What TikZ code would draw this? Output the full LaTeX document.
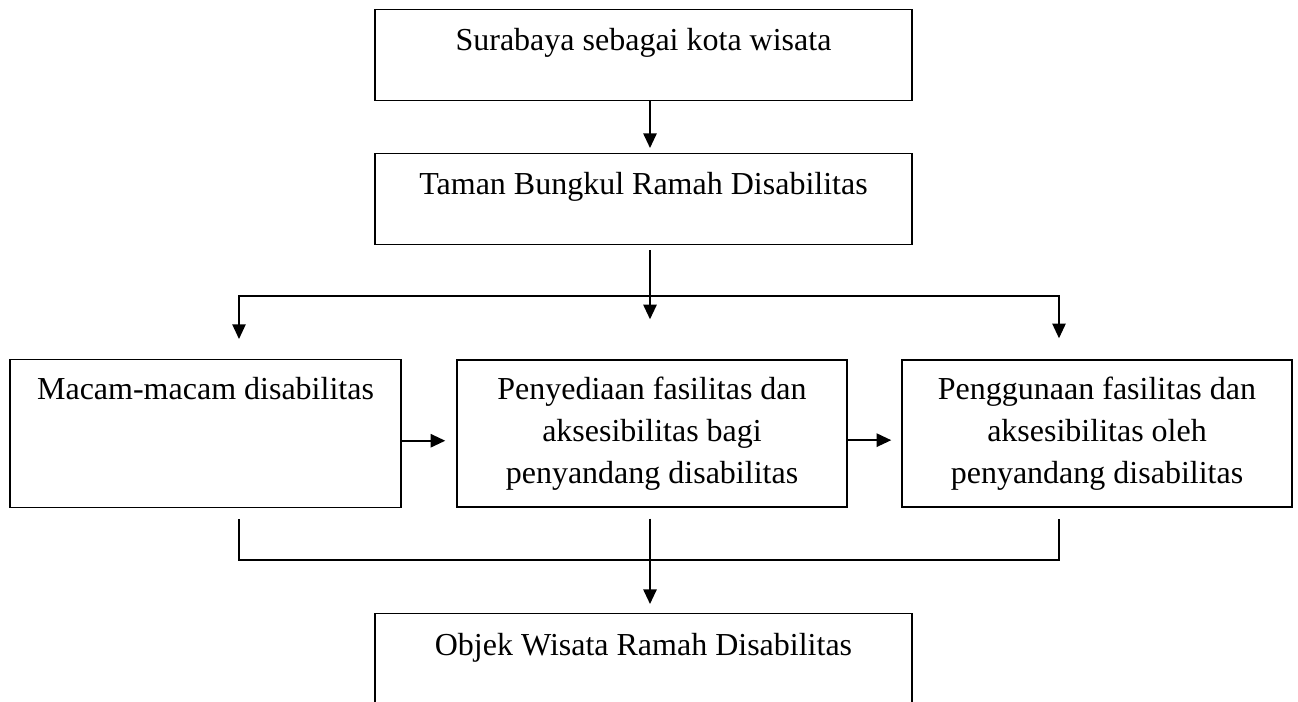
\documentclass[tikz,border=0pt]{standalone}
\usepackage{fontspec}
\setmainfont{Liberation Serif}
\usetikzlibrary{arrows.meta}
\tikzset{
  box/.style={draw=black, line width=1.1pt, inner sep=0pt, rectangle},
  onebox/.style={box, minimum width=402.75pt, text height=30.75pt, text depth=37.5pt, anchor=north},
  threebox/.style={box, minimum width=292.5pt, minimum height=110.25pt, align=center},
  link/.style={draw=black, line width=1.1pt},
  arr/.style={draw=black, line width=1.4pt, -{Triangle[length=11pt,width=10pt]}},
  arrtwo/.style={draw=black, line width=1.1pt, {Triangle[length=11pt,width=10pt]}-{Triangle[length=11pt,width=10pt]}}
}
\begin{document}
\begin{tikzpicture}[x=0.75pt, y=-0.75pt, font=\fontsize{24}{31.5}\selectfont]
\useasboundingbox (0,0) rectangle (1298,702);
\clip (0,0) rectangle (1298,702);

\node[onebox] (b1) at (643.5,9) {Surabaya sebagai kota wisata};
\node[onebox] (b2) at (643.5,153) {Taman Bungkul Ramah Disabilitas};
\node[box, minimum width=293.25pt, text height=30pt, text depth=81pt, anchor=north] (lb) at (205.5,359) {Macam-macam disabilitas};
\node[threebox] (mb) at (652,433.5) {Penyediaan fasilitas dan\\aksesibilitas bagi\\penyandang disabilitas};
\node[threebox] (rb) at (1097,433.5) {Penggunaan fasilitas dan\\aksesibilitas oleh\\penyandang disabilitas};
\node[box, minimum width=402.75pt, text height=31.5pt, text depth=38pt, anchor=north] (ob) at (643.5,613) {Objek Wisata Ramah Disabilitas};

\coordinate (fl) at (239,296);
\coordinate (fr) at (1059,296);
\coordinate (ml) at (239,560);
\coordinate (mr) at (1059,560);

% top arrow
\draw[arr, shorten >=3.75pt] ([xshift=4.875pt]b1.south) -- ([xshift=4.875pt]b2.north);
% down to middle
\draw[arr, shorten <=3.75pt, shorten >=30pt] ([xshift=4.875pt]b2.south) -- ([xshift=4.875pt]b2.south |- mb.north);
% fork to left and right
\draw[arrtwo, shorten <=15pt, shorten >=15.75pt] (fl |- lb.north) -- (fl) -- (fr) -- (fr |- rb.north);
% horizontal arrows
\draw[arr, shorten >=8.25pt] ([yshift=-5.25pt]lb.east) -- ([yshift=-5.25pt]lb.east -| mb.west);
\draw[arr, shorten >=7.5pt] ([yshift=-5pt]mb.east) -- ([yshift=-5pt]mb.east -| rb.west);
% merge
\draw[link, shorten <=8.25pt, shorten >=8.25pt] (ml |- lb.south) -- (ml) -- (mr) -- (mr |- rb.south);
\draw[arr, shorten <=8.25pt, shorten >=6.75pt] ([xshift=-1.5pt]mb.south) -- ([xshift=-1.5pt]mb.south |- ob.north);
\end{tikzpicture}
\end{document}
